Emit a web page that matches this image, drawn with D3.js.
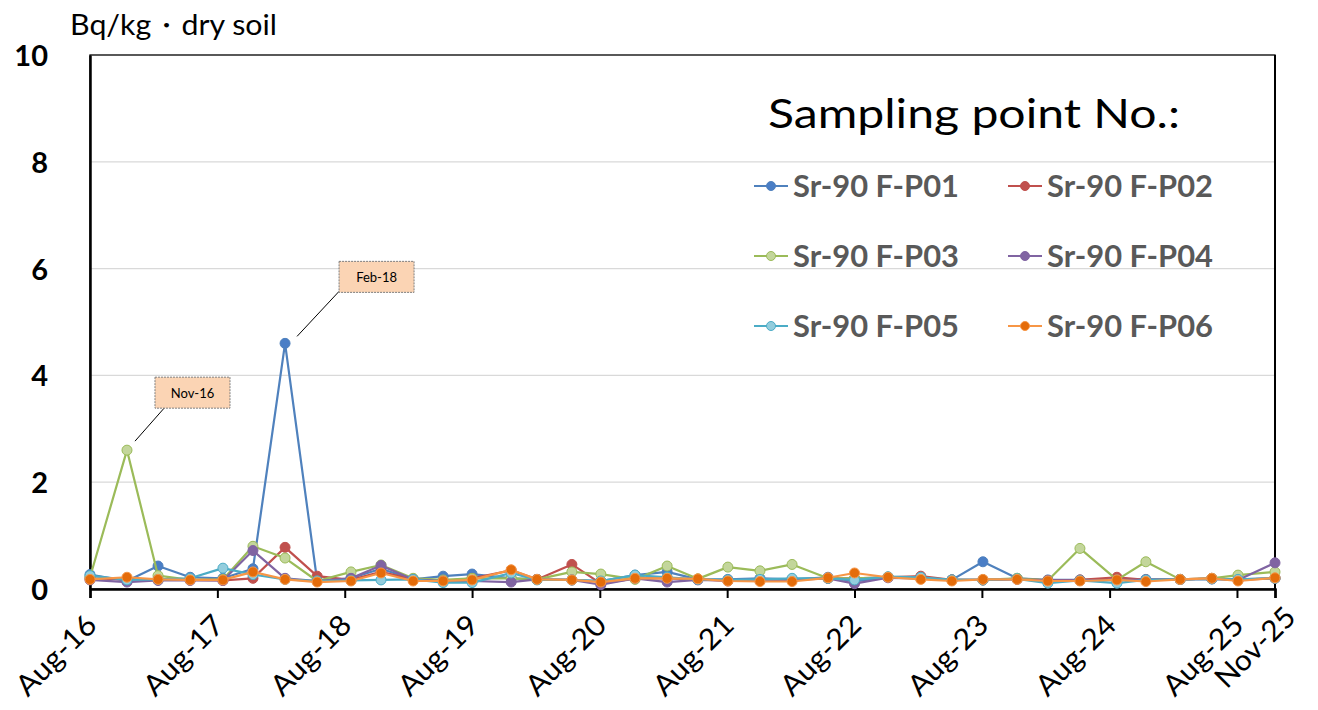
<!DOCTYPE html>
<html>
<head>
<meta charset="utf-8">
<script src="https://cdn.jsdelivr.net/npm/d3@7"></script>
<style>
  html, body { margin: 0; padding: 0; background: #fff; }
  svg { display: block; font-family: Lato, "Open Sans", sans-serif; }
</style>
</head>
<body>
<svg id="chart" width="1318" height="710"></svg>
<script>
// Sampling dates (quarterly soil sampling)
const sampleDates = [
  "2016-08-01","2016-11-15","2017-02-12","2017-05-15","2017-08-17","2017-11-11",
  "2018-02-11","2018-05-14","2018-08-19","2018-11-13","2019-02-13","2019-05-10",
  "2019-08-01","2019-11-21","2020-02-03","2020-05-13","2020-08-04","2020-11-10",
  "2021-02-10","2021-05-09","2021-08-03","2021-11-03","2022-02-03","2022-05-17",
  "2022-08-01","2022-11-05","2023-02-07","2023-05-07","2023-08-04","2023-11-10",
  "2024-02-06","2024-05-08","2024-08-22","2024-11-13","2025-02-19","2025-05-21",
  "2025-08-04","2025-11-18"
];

// Sr-90 concentration (Bq/kg dry soil) per sampling point
const p01 = [0.27,0.15,0.43,0.22,0.20,0.38,4.60,0.15,0.20,0.38,0.18,0.24,0.28,0.20,0.18,0.17,0.15,0.26,0.32,0.18,0.18,0.20,0.18,0.22,0.14,0.22,0.20,0.17,0.51,0.20,0.17,0.17,0.18,0.18,0.18,0.19,0.18,0.20];
const p02 = [0.20,0.18,0.17,0.17,0.16,0.20,0.78,0.24,0.17,0.32,0.18,0.15,0.20,0.35,0.18,0.46,0.10,0.20,0.20,0.18,0.15,0.16,0.18,0.20,0.20,0.22,0.24,0.17,0.17,0.19,0.16,0.17,0.22,0.17,0.18,0.20,0.17,0.20];
const p03 = [0.22,2.60,0.25,0.17,0.18,0.80,0.58,0.15,0.32,0.45,0.20,0.17,0.20,0.20,0.18,0.32,0.28,0.18,0.43,0.19,0.41,0.34,0.46,0.20,0.20,0.22,0.20,0.17,0.17,0.20,0.16,0.76,0.17,0.51,0.18,0.20,0.26,0.32];
const p04 = [0.17,0.13,0.16,0.16,0.16,0.72,0.20,0.15,0.20,0.44,0.18,0.15,0.15,0.13,0.18,0.17,0.08,0.20,0.13,0.17,0.16,0.16,0.17,0.20,0.10,0.21,0.20,0.17,0.17,0.18,0.16,0.16,0.17,0.17,0.18,0.19,0.17,0.49];
const p05 = [0.25,0.17,0.18,0.20,0.39,0.27,0.18,0.15,0.16,0.17,0.18,0.12,0.12,0.30,0.17,0.17,0.15,0.26,0.22,0.18,0.17,0.18,0.20,0.20,0.17,0.23,0.22,0.17,0.17,0.19,0.11,0.16,0.11,0.17,0.18,0.19,0.18,0.20];
const p06 = [0.18,0.22,0.18,0.17,0.17,0.32,0.18,0.13,0.15,0.30,0.15,0.15,0.17,0.36,0.18,0.17,0.13,0.20,0.20,0.19,0.15,0.14,0.14,0.21,0.30,0.22,0.18,0.15,0.18,0.18,0.15,0.15,0.17,0.14,0.18,0.20,0.15,0.21];

const seriesNames = ["Sr-90 F-P01","Sr-90 F-P02","Sr-90 F-P03","Sr-90 F-P04","Sr-90 F-P05","Sr-90 F-P06"];
const seriesValues = [p01, p02, p03, p04, p05, p06];

// Axis ticks
const yTicks = [0, 2, 4, 6, 8, 10];
const xTickDates = ["2016-08-01","2017-08-01","2018-08-01","2019-08-01","2020-08-01","2021-08-01",
                    "2022-08-01","2023-08-01","2024-08-01","2025-08-01","2025-11-18"];

// Callouts: series index and sample index of highlighted peaks
const callouts = [{ series: 2, index: 1 }, { series: 0, index: 6 }];

// ---- styling ----
const lineColors   = ["#4f81bd","#c0504d","#9bbb59","#8064a2","#4bacc6","#f79646"];
const markerFill   = ["#4a7ec6","#c0504d","#c3d69b","#8064a2","#93cddd","#e46c0a"];
const markerStroke = ["#4f81bd","#c0504d","#9bbb59","#8064a2","#4bacc6","#f79646"];
const calloutOffsets = [{ dx: 28, dy: -73, lx0: 8, ly0: -9, lx1: 10 }, { dx: 54, dy: -82, lx0: 12, ly0: -7, lx1: 0 }];

const parse = d3.timeParse("%Y-%m-%d");
const fmt = d3.timeFormat("%b-%y");
const dates = sampleDates.map(parse);

const svg = d3.select("#chart");
const plot = { left: 90, right: 1275, top: 55, bottom: 589 };

const x = d3.scaleTime()
  .domain([parse("2016-08-01"), parse("2025-11-18")])
  .range([plot.left, plot.right]);
const y = d3.scaleLinear().domain([0, 10]).range([plot.bottom, plot.top]);

// gridlines
svg.append("g").selectAll("line")
  .data(yTicks.filter(t => t > 0 && t < 10))
  .join("line")
  .attr("x1", plot.left).attr("x2", plot.right)
  .attr("y1", d => y(d)).attr("y2", d => y(d))
  .attr("stroke", "#d9d9d9").attr("stroke-width", 1.2);

// plot frame
svg.append("rect")
  .attr("x", plot.left).attr("y", plot.top)
  .attr("width", plot.right - plot.left).attr("height", plot.bottom - plot.top)
  .attr("fill", "none").attr("stroke", "#000").attr("stroke-width", 1.3);
svg.append("line")
  .attr("x1", plot.right).attr("x2", plot.right)
  .attr("y1", plot.top).attr("y2", plot.bottom)
  .attr("stroke", "#000").attr("stroke-width", 2);

// y axis
const yAxis = svg.append("g")
  .attr("transform", `translate(${plot.left},0)`)
  .call(d3.axisLeft(y).tickValues(yTicks).tickSize(0).tickPadding(42).tickFormat(d3.format("d")));
yAxis.select(".domain").attr("stroke", "#000").attr("stroke-width", 2.5);
yAxis.selectAll("text")
  .attr("font-family", "Lato, sans-serif").attr("font-size", 29).attr("font-weight", "bold")
  .attr("fill", "#000").attr("dy", "0.36em");

// x axis
const lastTick = xTickDates.length - 1;
const xAxis = svg.append("g")
  .attr("transform", `translate(0,${plot.bottom})`)
  .call(d3.axisBottom(x).tickValues(xTickDates.map(parse)).tickSize(9).tickFormat(fmt));
xAxis.select(".domain").attr("stroke", "#000").attr("stroke-width", 2.5);
xAxis.selectAll(".tick line").attr("stroke", "#000").attr("stroke-width", 2);
xAxis.selectAll("text")
  .attr("font-family", "Lato, sans-serif").attr("font-size", 29).attr("fill", "#000")
  .attr("text-anchor", "end")
  .attr("dy", null).attr("y", 0)
  .attr("textLength", 100).attr("lengthAdjust", "spacingAndGlyphs")
  .attr("transform", (d, i) => i === lastTick
    ? "translate(22,30) rotate(-45)"
    : "translate(8,38) rotate(-45)");

// unit label
svg.append("text")
  .attr("x", 70).attr("y", 35)
  .attr("font-family", "Lato, sans-serif").attr("font-size", 28).attr("fill", "#000")
  .attr("textLength", 207).attr("lengthAdjust", "spacingAndGlyphs")
  .text("Bq/kg・dry soil");

// series lines and markers
const line = d3.line().x((d, i) => x(dates[i])).y(d => y(d));
const seriesG = svg.append("g");
seriesValues.forEach((vals, s) => {
  const g = seriesG.append("g");
  g.append("path")
    .attr("d", line(vals))
    .attr("fill", "none").attr("stroke", lineColors[s]).attr("stroke-width", 2.2)
    .attr("stroke-linejoin", "round");
  g.selectAll("circle").data(vals).join("circle")
    .attr("cx", (d, i) => x(dates[i])).attr("cy", d => y(d)).attr("r", 5)
    .attr("fill", markerFill[s]).attr("stroke", markerStroke[s]).attr("stroke-width", 1);
});

// callouts
callouts.forEach((c, k) => {
  const o = calloutOffsets[k];
  const px = x(dates[c.index]), py = y(seriesValues[c.series][c.index]);
  const bx = px + o.dx, by = py + o.dy, bw = 75, bh = 31;
  svg.append("line")
    .attr("x1", px + o.lx0).attr("y1", py + o.ly0)
    .attr("x2", bx + o.lx1).attr("y2", by + bh - 1)
    .attr("stroke", "#000").attr("stroke-width", 1);
  svg.append("rect")
    .attr("x", bx).attr("y", by).attr("width", bw).attr("height", bh)
    .attr("fill", "#fbd4b4").attr("stroke", "#7f7f7f").attr("stroke-width", 1)
    .attr("stroke-dasharray", "2,1");
  svg.append("text")
    .attr("x", bx + bw / 2).attr("y", by + bh / 2 + 5)
    .attr("text-anchor", "middle")
    .attr("font-family", "Lato, sans-serif").attr("font-size", 13).attr("fill", "#000")
    .text(fmt(dates[c.index]));
});

// legend
svg.append("text")
  .attr("x", 768).attr("y", 128)
  .attr("font-family", "Lato, sans-serif").attr("font-size", 41).attr("fill", "#000")
  .attr("textLength", 412).attr("lengthAdjust", "spacingAndGlyphs")
  .text("Sampling point No.:");

const legendCols = [754, 1008], legendRows = [186, 256, 326];
seriesNames.forEach((name, s) => {
  const lx = legendCols[s % 2], ly = legendRows[Math.floor(s / 2)];
  const g = svg.append("g").attr("transform", `translate(${lx},${ly})`);
  g.append("line").attr("x1", 0).attr("x2", 34).attr("y1", 0).attr("y2", 0)
    .attr("stroke", lineColors[s]).attr("stroke-width", 2);
  g.append("circle").attr("cx", 17).attr("cy", 0).attr("r", 4.5)
    .attr("fill", markerFill[s]).attr("stroke", markerStroke[s]).attr("stroke-width", 1);
  g.append("text").attr("x", 39).attr("y", 11)
    .attr("font-family", "Lato, sans-serif").attr("font-size", 31).attr("font-weight", "bold")
    .attr("fill", "#595959")
    .attr("textLength", 166).attr("lengthAdjust", "spacingAndGlyphs")
    .text(name);
});
</script>
</body>
</html>
